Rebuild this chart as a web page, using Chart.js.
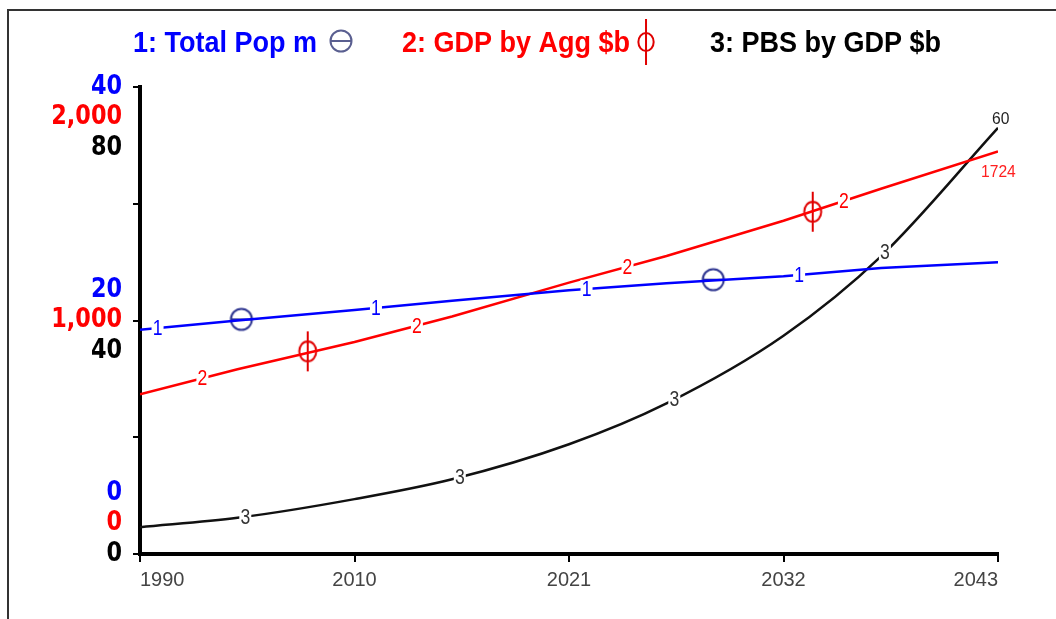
<!DOCTYPE html>
<html>
<head>
<meta charset="utf-8">
<script src="https://cdn.jsdelivr.net/npm/chart.js@4.4.0/dist/chart.umd.min.js"></script>
<style>
html, body { margin: 0; padding: 0; background: #fff; }
#wrap { position: relative; width: 1056px; height: 619px; overflow: hidden; }
#frame { position: absolute; left: 7px; top: 9px; width: 1100px; height: 700px; border-left: 2px solid #333; border-top: 2px solid #333; }
#lineChart { position: absolute; left: 0; top: 0; }
</style>
</head>
<body>
<div id="wrap">
  <div id="frame"></div>
  <canvas id="lineChart" width="1056" height="619"></canvas>
</div>
<script>
// datos
var years = [1999, 2004, 2010, 2015, 2021, 2026, 2032, 2037, 2043];
var totalPop = [19.2, 20.0, 20.9, 21.7, 22.6, 23.2, 23.8, 24.5, 25.0];
var gdpByAgg = [684, 791, 908, 1017, 1162, 1276, 1427, 1564, 1724];
var pbsByGdp = [4.6, 6.2, 9.4, 12.8, 18.8, 25.8, 37.4, 51.0, 73.0];

// marcadores sobre las lineas 1 y 2
var popMarkYears = [2004.2, 2028.4];
var popMarkValues = [20.1, 23.5];
var gdpMarkYears = [2007.6, 2033.5];
var gdpMarkValues = [868, 1466];

// etiquetas de numero de serie a lo largo de las lineas
var popLabelYears = [1999.9, 2011.1, 2021.9, 2032.8];
var gdpLabelYears = [2002.2, 2013.2, 2024.0, 2035.1];
var pbsLabelYears = [2004.4, 2015.4, 2026.4, 2037.2];
var endLabels = ['', '1724', '60'];

// ejes
var tickYears = [1999, 2010, 2021, 2032, 2043];
var tickLabels = ['1990', '2010', '2021', '2032', '2043'];
var popTicks = [0, 20, 40];
var gdpTicks = [0, 1000, 2000];
var pbsTicks = [0, 40, 80];
var popTickLabels = ['0', '20', '40'];
var gdpTickLabels = ['0', '1,000', '2,000'];
var pbsTickLabels = ['0', '40', '80'];

var seriesNames = ['1: Total Pop m', '2: GDP by Agg $b', '3: PBS by GDP $b'];
var seriesColors = ['#0000ff', '#ff0000', '#000000'];

function pts(xs, ys) {
    var out = [];
    for (var i = 0; i < xs.length; i++) out.push({ x: xs[i], y: ys[i] });
    return out;
}

function drawCircleH(ctx, cx, cy, r, color) {
    ctx.save();
    ctx.strokeStyle = color;
    ctx.lineWidth = 2;
    ctx.beginPath();
    ctx.arc(cx, cy, r, 0, Math.PI * 2);
    ctx.moveTo(cx - r, cy);
    ctx.lineTo(cx + r, cy);
    ctx.stroke();
    ctx.restore();
}

function drawCircleV(ctx, cx, cy, r, len, color) {
    ctx.save();
    ctx.strokeStyle = color;
    ctx.lineWidth = 2;
    ctx.beginPath();
    ctx.ellipse(cx, cy, r * 0.85, r, 0, 0, Math.PI * 2);
    ctx.moveTo(cx, cy - len);
    ctx.lineTo(cx, cy + len);
    ctx.stroke();
    ctx.restore();
}

function markerCanvas(kind) {
    var c = document.createElement('canvas');
    c.width = 32;
    c.height = 48;
    var g = c.getContext('2d');
    if (kind === 'h') drawCircleH(g, 16, 24, 10.5, '#2e3590');
    else drawCircleV(g, 16, 24, 10, 20, '#e00000');
    return c;
}

function interp(xs, ys, x) {
    for (var i = 0; i < xs.length - 1; i++) {
        if (x >= xs[i] && x <= xs[i + 1]) {
            var t = (x - xs[i]) / (xs[i + 1] - xs[i]);
            return ys[i] + t * (ys[i + 1] - ys[i]);
        }
    }
    return ys[ys.length - 1];
}

// texto estrechado horizontalmente (la fuente del original es alta y estrecha)
function narrowText(ctx, txt, x, y, sx) {
    ctx.save();
    ctx.translate(x, y);
    ctx.scale(sx, 1);
    ctx.fillText(txt, 0, 0);
    ctx.restore();
}

var extras = {
    id: 'extras',
    afterDatasetsDraw: function(chart) {
        var ctx = chart.ctx;
        var xs = chart.scales.x;
        var sets = [
            { ys: totalPop, lab: popLabelYears, axis: 'yPop', txt: '1' },
            { ys: gdpByAgg, lab: gdpLabelYears, axis: 'yGdp', txt: '2' },
            { ys: pbsByGdp, lab: pbsLabelYears, axis: 'yPbs', txt: '3' }
        ];
        ctx.save();
        ctx.font = '22px Arial, "Liberation Sans", sans-serif';
        ctx.textAlign = 'center';
        ctx.textBaseline = 'middle';
        sets.forEach(function(s, i) {
            var ys = chart.scales[s.axis];
            s.lab.forEach(function(yr) {
                var px = xs.getPixelForValue(yr);
                var py = ys.getPixelForValue(interp(years, s.ys, yr));
                ctx.fillStyle = '#fff';
                ctx.fillRect(px - 6, py - 9, 12, 18);
                ctx.fillStyle = i === 2 ? '#333' : seriesColors[i];
                narrowText(ctx, s.txt, px, py + 1, 0.8);
            });
        });
        // etiquetas al final de las lineas
        var lastX = xs.getPixelForValue(years[years.length - 1]);
        ctx.font = '17px Arial, "Liberation Sans", sans-serif';
        ctx.textAlign = 'left';
        ctx.fillStyle = '#ff2020';
        narrowText(ctx, endLabels[1], lastX - 17, chart.scales.yGdp.getPixelForValue(gdpByAgg[gdpByAgg.length - 1]) + 21, 0.92);
        ctx.fillStyle = '#222';
        narrowText(ctx, endLabels[2], lastX - 6, chart.scales.yPbs.getPixelForValue(pbsByGdp[pbsByGdp.length - 1]) - 9, 0.92);
        ctx.restore();
    },
    afterDraw: function(chart) {
        var ctx = chart.ctx;
        ctx.save();
        // etiquetas apiladas de los tres ejes Y
        var groups = [
            { axis: 'yPop', vals: popTicks, txt: popTickLabels },
            { axis: 'yGdp', vals: gdpTicks, txt: gdpTickLabels },
            { axis: 'yPbs', vals: pbsTicks, txt: pbsTickLabels }
        ];
        ctx.font = 'bold 26px "DejaVu Sans", Verdana, sans-serif';
        ctx.textAlign = 'right';
        ctx.textBaseline = 'middle';
        groups.forEach(function(g, i) {
            var sc = chart.scales[g.axis];
            g.vals.forEach(function(v, j) {
                var py = sc.getPixelForValue(v) + (i + j - 2) * 30.5;
                ctx.fillStyle = seriesColors[i];
                narrowText(ctx, g.txt[j], 122, py, 0.86);
            });
        });
        // leyenda
        var legendX = [133, 402, 710];
        var sx = 0.9;
        ctx.font = 'bold 30px Arial, "Liberation Sans", sans-serif';
        ctx.textAlign = 'left';
        ctx.textBaseline = 'alphabetic';
        seriesNames.forEach(function(name, i) {
            ctx.fillStyle = seriesColors[i];
            narrowText(ctx, name, legendX[i], 52, sx);
            var w = ctx.measureText(name).width * sx;
            if (i === 0) drawCircleH(ctx, legendX[i] + w + 24, 41, 10.5, '#5a5f90');
            if (i === 1) drawCircleV(ctx, legendX[i] + w + 16, 42, 9, 23, '#e00000');
        });
        ctx.restore();
    }
};

var ctx = document.getElementById('lineChart').getContext('2d');
var lineChart = new Chart(ctx, {
    type: 'line',
    data: {
        datasets: [{
            label: seriesNames[0],
            data: pts(years, totalPop),
            yAxisID: 'yPop',
            borderColor: seriesColors[0],
            borderWidth: 2.5,
            pointRadius: 0,
            tension: 0
        }, {
            label: seriesNames[1],
            data: pts(years, gdpByAgg),
            yAxisID: 'yGdp',
            borderColor: seriesColors[1],
            borderWidth: 2.5,
            pointRadius: 0,
            tension: 0
        }, {
            label: seriesNames[2],
            data: pts(years, pbsByGdp),
            yAxisID: 'yPbs',
            borderColor: '#111',
            borderWidth: 2.5,
            pointRadius: 0,
            cubicInterpolationMode: 'monotone'
        }, {
            label: 'pop marks',
            data: pts(popMarkYears, popMarkValues),
            yAxisID: 'yPop',
            showLine: false,
            pointStyle: markerCanvas('h'),
            pointRadius: 12
        }, {
            label: 'gdp marks',
            data: pts(gdpMarkYears, gdpMarkValues),
            yAxisID: 'yGdp',
            showLine: false,
            pointStyle: markerCanvas('v'),
            pointRadius: 12
        }]
    },
    options: {
        responsive: false,
        animation: false,
        devicePixelRatio: 1,
        layout: { padding: { left: 128, top: 87, right: 58, bottom: 0 } },
        plugins: { legend: { display: false }, tooltip: { enabled: false } },
        scales: {
            x: {
                type: 'linear',
                min: tickYears[0],
                max: tickYears[tickYears.length - 1],
                afterBuildTicks: function(scale) {
                    scale.ticks = tickYears.map(function(v) { return { value: v }; });
                },
                afterFit: function(scale) { scale.height = 65; },
                ticks: {
                    align: 'inner',
                    maxRotation: 0,
                    padding: 6,
                    color: '#444',
                    font: { family: 'Arial, "Liberation Sans", sans-serif', size: 20 },
                    callback: function(v, i) { return tickLabels[i]; }
                },
                grid: { drawOnChartArea: false, color: '#000', lineWidth: 2, tickLength: 8 },
                border: { color: '#000', width: 4 }
            },
            yPbs: {
                position: 'left',
                min: 0,
                max: 80,
                ticks: { display: false, stepSize: 20 },
                afterFit: function(scale) { scale.width = 12; },
                grid: { drawOnChartArea: false, color: '#000', lineWidth: 2, tickLength: 7 },
                border: { color: '#000', width: 4 }
            },
            yPop: { display: false, min: 0, max: 40 },
            yGdp: { display: false, min: 0, max: 2000 }
        }
    },
    plugins: [extras]
});
</script>
</body>
</html>
